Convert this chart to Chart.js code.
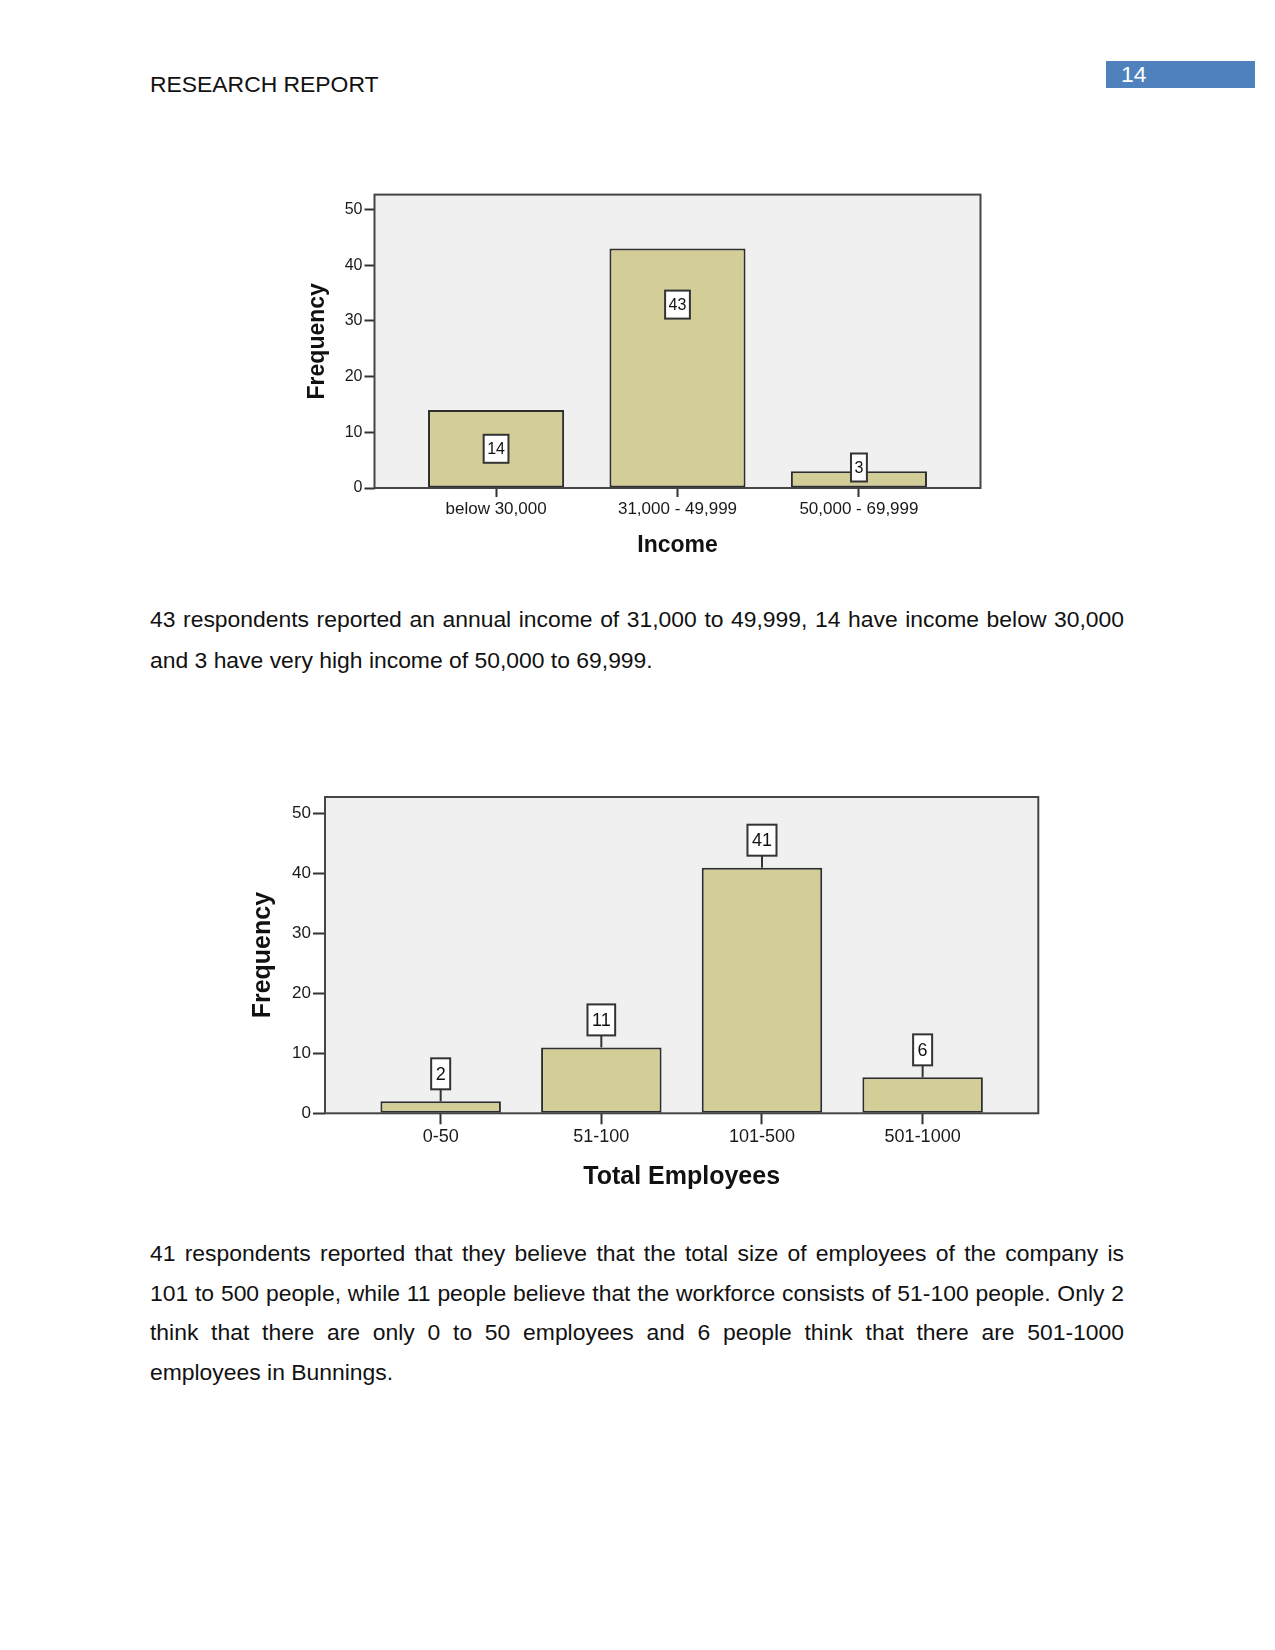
<!DOCTYPE html>
<html>
<head>
<meta charset="utf-8">
<script src="https://cdn.jsdelivr.net/npm/chart.js@4"></script>
<style>
  html, body { margin: 0; padding: 0; background: #fff; }
  #page { position: relative; width: 1275px; height: 1650px; overflow: hidden; font-family: "Liberation Sans", Arial, sans-serif; color: #111; }
  .head { position: absolute; left: 150px; top: 69px; font-size: 22.9px; line-height: 30px; }
  .pnum { position: absolute; left: 1106px; top: 61px; width: 149px; height: 27px; background: #4f81bd; color: #fff; font-size: 22.9px; line-height: 27px; }
  .pnum span { padding-left: 15px; }
  .para { position: absolute; left: 150px; width: 974px; font-size: 22.9px; line-height: 40px; }
  .para .j { display: block; text-align: justify; text-align-last: justify; }
  canvas { position: absolute; }
</style>
</head>
<body>
<div id="page">
  <div class="head">RESEARCH REPORT</div>
  <div class="pnum"><span>14</span></div>

  <canvas id="incomeChart" width="720" height="400" style="left:280px;top:180px"></canvas>

  <div class="para" style="top:599px;line-height:41px">
    <span class="j">43 respondents reported an annual income of 31,000 to 49,999, 14 have income below 30,000</span>
    <span>and 3 have very high income of 50,000 to 69,999.</span>
  </div>

  <canvas id="employeeChart" width="830" height="420" style="left:230px;top:780px"></canvas>

  <div class="para" style="top:1234px;line-height:39.7px">
    <span class="j">41 respondents reported that they believe that the total size of employees of the company is</span>
    <span class="j">101 to 500 people, while 11 people believe that the workforce consists of 51-100 people. Only 2</span>
    <span class="j">think that there are only 0 to 50 employees and 6 people think that there are 501-1000</span>
    <span>employees in Bunnings.</span>
  </div>
</div>

<script>
// chart data
const incomeLabels = ['below 30,000', '31,000 - 49,999', '50,000 - 69,999'];
const incomeCounts = [14, 43, 3];
const employeeLabels = ['0-50', '51-100', '101-500', '501-1000'];
const employeeCounts = [2, 11, 41, 6];
const freqTicks = [0, 10, 20, 30, 40, 50];

const FONT = '"Liberation Sans", Arial, sans-serif';

// grey plot frame + SPSS style value boxes
const spssFrame = {
    id: 'spssFrame',
    beforeDatasetsDraw(chart, args, opts) {
        const { ctx, chartArea: a } = chart;
        ctx.save();
        ctx.fillStyle = '#f0f0f0';
        ctx.fillRect(a.left, a.top, a.width, a.height);
        ctx.restore();
    },
    afterDatasetsDraw(chart, args, opts) {
        const { ctx, chartArea: a } = chart;
        ctx.save();
        ctx.strokeStyle = '#454545';
        ctx.lineWidth = 2;
        ctx.strokeRect(a.left, a.top, a.width, a.height);

        const values = chart.data.datasets[0].data;
        ctx.font = opts.boxFont + 'px ' + FONT;
        ctx.textAlign = 'center';
        ctx.textBaseline = 'middle';
        chart.getDatasetMeta(0).data.forEach((bar, i) => {
            const txt = String(values[i].y);
            const w = ctx.measureText(txt).width + opts.boxPad * 2;
            const h = opts.boxH;
            let cy;
            if (opts.mode === 'inside') {
                cy = Math.min(bar.y + 56, (bar.y + bar.base) / 2, bar.base - 20);
            } else {
                cy = bar.y - opts.leader - h / 2;
                ctx.strokeStyle = '#333';
                ctx.lineWidth = 2;
                ctx.beginPath();
                ctx.moveTo(bar.x, bar.y);
                ctx.lineTo(bar.x, bar.y - opts.leader);
                ctx.stroke();
            }
            ctx.fillStyle = '#fff';
            ctx.fillRect(bar.x - w / 2, cy - h / 2, w, h);
            ctx.strokeStyle = '#333';
            ctx.lineWidth = 2;
            ctx.strokeRect(bar.x - w / 2, cy - h / 2, w, h);
            ctx.fillStyle = '#111';
            ctx.fillText(txt, bar.x, cy + 1);
        });
        ctx.restore();
    }
};

function makeChart(id, labels, counts, title, s) {
    const ctx = document.getElementById(id).getContext('2d');
    return new Chart(ctx, {
        type: 'bar',
        data: {
            datasets: [{
                data: counts.map((v, i) => ({ x: i, y: v })),
                backgroundColor: '#d3ce97',
                borderColor: '#2e2e2e',
                borderWidth: 2,
                borderSkipped: false,
                categoryPercentage: 1,
                barPercentage: 0.75
            }]
        },
        plugins: [spssFrame],
        options: {
            responsive: false,
            animation: false,
            layout: { padding: { top: s.padTop, right: s.padRight, left: 0, bottom: 0 } },
            plugins: {
                legend: { display: false },
                tooltip: { enabled: false },
                spssFrame: s.labels
            },
            scales: {
                x: {
                    type: 'linear',
                    offset: false,
                    min: -s.side,
                    max: labels.length - 1 + s.side,
                    afterBuildTicks: sc => { sc.ticks = labels.map((l, i) => ({ value: i })); },
                    afterFit: sc => { sc.height = s.xHeight; },
                    grid: { offset: false, drawOnChartArea: false, tickLength: s.xTick, tickWidth: 2, tickColor: '#333' },
                    border: { display: false },
                    ticks: {
                        callback: v => labels[v],
                        autoSkip: false, maxRotation: 0,
                        padding: 2, color: '#1a1a1a',
                        font: { family: FONT, size: s.xFont }
                    },
                    title: {
                        display: true, text: title, color: '#111',
                        font: { family: FONT, size: s.titleFont, weight: 'bold' },
                        padding: { top: 0, bottom: s.xTitlePad }
                    }
                },
                y: {
                    min: 0,
                    max: s.yMax,
                    afterBuildTicks: sc => { sc.ticks = freqTicks.map(v => ({ value: v })); },
                    afterFit: sc => { sc.width = s.yWidth; },
                    grid: { drawOnChartArea: false, tickLength: s.yTick, tickWidth: 2, tickColor: '#333' },
                    border: { display: false },
                    ticks: { padding: 2, color: '#1a1a1a', font: { family: FONT, size: s.yFont } },
                    title: {
                        display: true, text: 'Frequency', color: '#111',
                        font: { family: FONT, size: s.titleFont, weight: 'bold' },
                        padding: { top: s.yTitlePad, bottom: 0 }
                    }
                }
            }
        }
    });
}

makeChart('incomeChart', incomeLabels, incomeCounts, 'Income', {
    padTop: 14.6, padRight: 19.5, side: 0.67, yMax: 52.7,
    xHeight: 92, yWidth: 94.5, xTick: 9, yTick: 10,
    xFont: 17, yFont: 16, titleFont: 23, xTitlePad: 20.2, yTitlePad: 24.2,
    labels: { mode: 'inside', boxFont: 16, boxPad: 3.5, boxH: 28 }
});

makeChart('employeeChart', employeeLabels, employeeCounts, 'Total Employees', {
    padTop: 17, padRight: 21.7, side: 0.72, yMax: 52.8,
    xHeight: 86.7, yWidth: 95, xTick: 11, yTick: 12,
    xFont: 18, yFont: 17, titleFont: 25, xTitlePad: 8, yTitlePad: 18,
    labels: { mode: 'above', boxFont: 18, boxPad: 4.5, boxH: 31, leader: 12 }
});
</script>
</body>
</html>
